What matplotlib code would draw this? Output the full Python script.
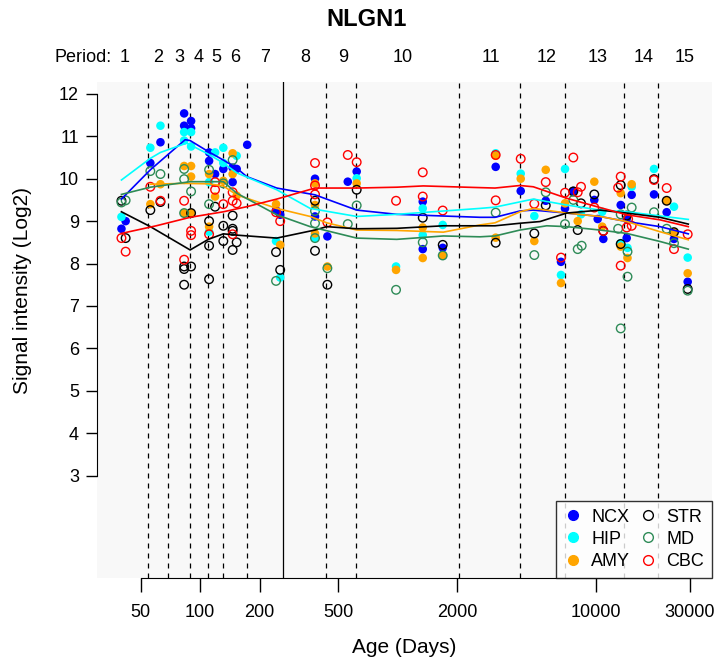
import matplotlib
matplotlib.use("Agg")
import matplotlib.pyplot as plt
from matplotlib.lines import Line2D

plt.rcParams['font.family'] = ['Liberation Sans', 'DejaVu Sans']

#-----data (age in days, log2 intensity)-----#
ncx_age = [40, 42, 56, 63, 83, 83, 90, 90, 111, 111, 119, 131, 146, 146, 153, 173, 242, 254, 381, 381, 440, 558, 619,
           1336, 1336, 1686, 3124, 4181, 5595, 6683, 7002, 7714, 9849, 10247, 10940, 13394, 14360, 14360, 15220,
           19740, 22880, 24910, 29220]
ncx_val = [8.82, 9.00, 10.37, 10.86, 11.54, 11.25, 11.36, 11.19, 10.62, 10.42, 10.11, 10.23, 10.26, 9.92, 10.23, 10.80,
           9.26, 9.15, 10.00, 9.11, 8.64, 9.93, 10.17, 9.46, 8.34, 8.37, 10.28, 9.71, 9.48, 8.04, 9.30, 9.71, 9.50,
           9.05, 8.58, 9.38, 9.05, 8.60, 9.62, 9.63, 9.21, 8.58, 7.57]

hip_age = [40, 56, 63, 83, 83, 90, 90, 111, 111, 119, 131, 131, 153, 242, 254, 381, 619, 979, 1336, 1336, 1686,
           3124, 4181, 4898, 6683, 7002, 8437, 10800, 13394, 14500, 15220, 19740, 24910, 29220]
hip_val = [9.10, 10.73, 11.25, 11.10, 10.90, 11.10, 10.76, 9.92, 8.75, 10.62, 10.73, 10.37, 10.54, 8.53, 7.67, 8.61,
           10.01, 7.93, 9.30, 8.67, 8.91, 10.60, 10.12, 9.12, 7.73, 10.23, 9.16, 9.22, 8.48, 8.37, 9.81, 10.23,
           9.34, 8.14]

amy_age = [56, 63, 83, 90, 90, 83, 90, 111, 119, 111, 131, 146, 146, 153, 242, 254, 381, 381, 381, 440, 619, 979,
           1336, 1336, 1686, 3124, 3124, 4181, 4898, 5595, 6683, 7002, 8119, 9849, 10800, 15220, 13394, 13394,
           14500, 22880, 24910, 29220]
amy_val = [9.40, 9.87, 10.30, 10.30, 10.05, 9.19, 9.19, 10.11, 9.58, 8.87, 9.95, 10.60, 10.11, 9.60, 9.40, 8.44,
           9.89, 9.38, 8.71, 7.93, 9.89, 7.85, 8.85, 8.13, 8.19, 10.54, 8.61, 10.00, 8.53, 10.21, 7.54, 9.42,
           9.00, 9.93, 8.87, 9.87, 9.66, 8.40, 8.13, 9.48, 8.74, 7.77]

str_age = [40, 42, 56, 63, 90, 83, 83, 90, 83, 119, 111, 111, 111, 131, 131, 146, 146, 146, 153, 146, 242, 254,
           381, 381, 440, 619, 1336, 1686, 3124, 4898, 5595, 7714, 8437, 8119, 9849, 10940, 13394, 14360, 13394,
           19740, 22880, 24910, 29220]
str_val = [9.48, 8.60, 9.26, 9.45, 9.19, 7.93, 7.87, 7.93, 7.50, 9.34, 9.00, 8.42, 7.63, 8.89, 8.53, 9.13, 8.82,
           8.77, 8.50, 8.32, 8.27, 7.85, 9.48, 8.30, 7.50, 9.74, 9.08, 8.44, 8.49, 8.71, 9.37, 9.70, 9.42, 8.79,
           9.63, 8.77, 9.85, 9.13, 8.46, 9.99, 9.48, 8.74, 7.40]

md_age = [40, 42, 56, 63, 83, 83, 90, 83, 111, 111, 131, 146, 242, 381, 381, 381, 440, 558, 619, 979, 1336, 1686,
          3124, 4898, 5595, 7002, 7714, 8119, 8500, 15220, 13394, 13000, 14500, 14500, 13394, 19740, 22880,
          24910, 29220]
md_val = [9.44, 9.49, 10.18, 10.11, 10.23, 9.99, 9.70, 9.19, 10.21, 9.40, 9.89, 10.44, 7.59, 9.24, 8.95, 8.60,
          7.89, 8.93, 9.37, 7.38, 8.50, 8.19, 9.20, 8.20, 9.68, 8.93, 9.50, 8.34, 8.42, 9.32, 9.16, 8.82, 8.28,
          7.69, 6.47, 9.21, 8.82, 8.48, 7.36]

cbc_age = [40, 42, 56, 63, 83, 90, 90, 83, 119, 119, 111, 131, 146, 146, 153, 146, 242, 254, 381, 381, 381, 440,
           558, 619, 979, 1336, 1336, 1686, 3124, 3124, 4181, 4898, 5595, 6683, 7002, 7714, 8119, 8437, 9849,
           10940, 13394, 13000, 14600, 15220, 14360, 13394, 19740, 22880, 24910, 29220]
cbc_val = [8.60, 8.28, 9.81, 9.48, 9.48, 8.77, 8.67, 8.09, 9.92, 9.74, 8.69, 9.40, 9.68, 9.48, 9.42, 8.69, 9.21,
           9.00, 10.37, 9.84, 9.63, 8.97, 10.56, 10.39, 9.48, 10.15, 9.58, 9.25, 10.56, 9.49, 10.47, 9.41, 9.92,
           8.14, 9.67, 10.50, 9.68, 9.81, 9.32, 8.77, 10.05, 9.79, 9.05, 8.89, 8.85, 7.95, 9.97, 9.78, 8.34, 8.69]

#-----smoothed curves-----#
ncx_fit_age = [40, 56, 84, 89, 110, 131, 153, 172, 244, 381, 619, 987, 2602, 3099, 4147, 4840, 7141, 10525,
               14360, 21170, 29420]
ncx_fit_val = [9.52, 10.21, 10.92, 10.90, 10.64, 10.44, 10.25, 10.05, 9.78, 9.62, 9.26, 9.16, 9.09, 9.09, 9.24,
               9.26, 9.19, 9.11, 8.99, 8.87, 8.70]
hip_fit_age = [40, 56, 63, 85.5, 89, 110, 131, 153, 244, 360, 619, 987, 2602, 3099, 4840, 7141, 10525, 14360, 29420]
hip_fit_val = [9.97, 10.48, 10.62, 10.84, 10.80, 10.58, 10.37, 10.14, 9.74, 9.30, 9.11, 9.16, 9.30, 9.33, 9.52,
               9.38, 9.26, 9.22, 9.04]
amy_fit_age = [56, 83, 110, 131, 153, 244, 360, 437, 619, 987, 1698, 2602, 3099, 4147, 4840, 7141, 10525, 14360,
               21170, 29420]
amy_fit_val = [9.87, 9.89, 9.88, 9.83, 9.62, 9.30, 9.11, 8.96, 8.79, 8.78, 8.74, 8.91, 8.96, 9.22, 9.30, 9.19,
               9.11, 8.99, 8.75, 8.56]
str_fit_age = [40, 56, 89, 110, 131, 153, 244, 381, 437, 619, 987, 1698, 3099, 4147, 5233, 7141, 10525, 14360,
               21170, 29420]
str_fit_val = [9.22, 8.87, 8.32, 8.57, 8.70, 8.67, 8.60, 8.79, 8.87, 8.82, 8.83, 8.89, 8.89, 8.95, 8.99, 9.19,
               9.26, 9.19, 9.09, 8.93]
md_fit_age = [40, 56, 89, 131, 153, 244, 360, 619, 987, 1698, 2602, 3099, 4147, 5659, 7141, 10525, 14360, 21170,
              29420]
md_fit_val = [9.63, 9.80, 9.93, 9.93, 9.66, 9.15, 8.87, 8.60, 8.57, 8.65, 8.63, 8.65, 8.79, 8.89, 8.87, 8.79,
              8.71, 8.52, 8.34]
cbc_fit_age = [40, 60, 89, 131, 172, 244, 381, 619, 987, 1345, 2602, 3099, 4147, 4840, 7141, 10525, 14360, 21170,
               29420]
cbc_fit_val = [8.71, 8.89, 9.09, 9.22, 9.34, 9.52, 9.78, 9.78, 9.80, 9.83, 9.79, 9.78, 9.84, 9.81, 9.54, 9.32,
               9.15, 9.03, 8.87]

#-----periods-----#
period_bounds = [54.6, 68.8, 89.1, 109.9, 131, 173.3, 432.2, 616.6, 2026, 4137, 6963, 13874, 20686]
birth = 262
period_labels = [str(i) for i in range(1, 16)]
period_pos = [41.7, 61.2, 78.2, 98.7, 120.3, 150.1, 212.9, 341.2, 528, 1062, 2958, 5632, 10200, 17430, 28100]

xticks = [50, 100, 200, 500, 2000, 10000, 30000]
yticks = list(range(3, 13))

filled = [("NCX", ncx_age, ncx_val, ncx_fit_age, ncx_fit_val, "#0000FF"),
          ("HIP", hip_age, hip_val, hip_fit_age, hip_fit_val, "#00FFFF"),
          ("AMY", amy_age, amy_val, amy_fit_age, amy_fit_val, "#FFA500")]
hollow = [("STR", str_age, str_val, str_fit_age, str_fit_val, "#000000"),
          ("MD", md_age, md_val, md_fit_age, md_fit_val, "#2E8B57"),
          ("CBC", cbc_age, cbc_val, cbc_fit_age, cbc_fit_val, "#FF0000")]

fig = plt.figure(figsize=(7.15, 6.61), dpi=100)
ax = fig.add_axes([0.1357, 0.1256, 0.8601, 0.7503])
ax.set_facecolor("#F8F8F8")
ax.set_xscale("log")
ax.set_xlim(30.1, 38780)
ax.set_ylim(0.585, 12.28)

for b in period_bounds:
    ax.axvline(b, color="black", lw=0.9, ls=(0, (4, 4)), zorder=1)
ax.axvline(birth, color="black", lw=0.9, zorder=1)

for name, a, v, fa, fv, c in filled:
    ax.scatter(a, v, s=38, color=c, edgecolors="none", zorder=3)
for name, a, v, fa, fv, c in hollow:
    ax.scatter(a, v, s=38, facecolors="none", edgecolors=c, linewidths=1.0, zorder=4)
for name, a, v, fa, fv, c in filled + hollow:
    ax.plot(fa, fv, color=c, lw=1.2, zorder=5)

ax.set_xticks(xticks)
ax.set_xticklabels([str(x) for x in xticks])
ax.xaxis.set_minor_locator(matplotlib.ticker.NullLocator())
ax.set_yticks(yticks)
ax.tick_params(axis="x", length=10, width=1, pad=9, labelsize=13)
ax.tick_params(axis="y", length=8, width=1, pad=5, labelsize=13)
for s in ["top", "right"]:
    ax.spines[s].set_visible(False)
ax.spines["left"].set_bounds(3, 12)
ax.spines["bottom"].set_bounds(50, 30000)

ax.set_xlabel("Age (Days)", fontsize=15, labelpad=12)
fig.text(0.031, 0.561, "Signal intensity (Log2)", rotation=90, fontsize=15, ha="center", va="center")
fig.text(0.513, 0.970, "NLGN1", fontsize=17, fontweight="bold", ha="center", va="center")

ax.text(35.6, 12.87, "Period:", fontsize=13, ha="right", va="center", clip_on=False)
for lab, p in zip(period_labels, period_pos):
    ax.text(p, 12.87, lab, fontsize=13, ha="center", va="center", clip_on=False)

handles = []
for name, a, v, fa, fv, c in filled:
    handles.append(Line2D([], [], ls="none", marker="o", ms=7, color=c, label=name))
for name, a, v, fa, fv, c in hollow:
    handles.append(Line2D([], [], ls="none", marker="o", ms=7, mfc="none", mec=c, mew=1.0, label=name))
leg = ax.legend(handles=handles, ncol=2, loc="lower right", bbox_to_anchor=(1.0, 0.0), borderaxespad=0,
                fontsize=13, frameon=True, fancybox=False, handletextpad=0.5, columnspacing=0.5,
                labelspacing=0.28, borderpad=0.45, handlelength=1.0)
leg.get_frame().set_edgecolor("black")
leg.get_frame().set_linewidth(1.0)

fig.savefig("out.png", dpi=100)
